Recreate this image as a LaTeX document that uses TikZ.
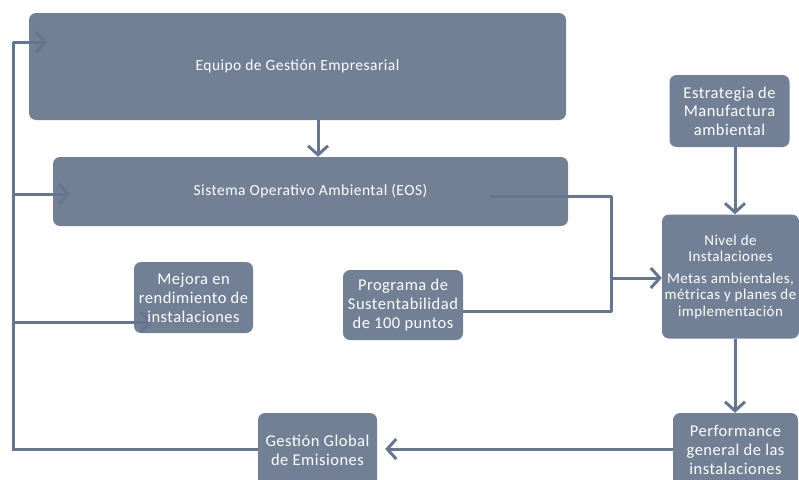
\documentclass[tikz,border=0pt]{standalone}
\usepackage{fontspec}
\setmainfont{Carlito}[LetterSpace=3]
\usetikzlibrary{arrows.meta,backgrounds}
\definecolor{boxc}{HTML}{66758D}
\definecolor{linec}{HTML}{66768E}
\begin{document}
\begin{tikzpicture}[x=1pt,y=-1pt,
  box/.style={fill=boxc, fill opacity=0.92, text opacity=1, rounded corners=7pt, text=white,
    align=center, inner sep=0pt, font=\fontsize{16.5}{19}\selectfont},
  conn/.style={draw=linec, line width=3pt, -{Straight Barb[length=9pt,width=20pt]}},
  plain/.style={draw=linec, line width=3pt}]
\useasboundingbox (0,0) rectangle (799,479);

% boxes
\node[box, minimum width=537pt, minimum height=107pt, font=\fontsize{15.5}{19}\selectfont] (ege) at (297.5,66.5) {Equipo de Gestión Empresarial};
\node[box, minimum width=515pt, minimum height=69pt, font=\fontsize{15.5}{19}\selectfont] (eos) at (310.5,191.5) {Sistema Operativo Ambiental (EOS)};
\node[box, minimum width=119pt, minimum height=71pt] (mej) at (193.5,297.5) {Mejora en\\rendimiento de\\instalaciones};
\node[box, minimum width=120pt, minimum height=70pt] (prog) at (403,305) {Programa de\\Sustentabilidad\\de 100 puntos};
\node[box, minimum width=120pt, minimum height=72pt, font=\fontsize{16.5}{18.5}\selectfont] (est) at (729.5,111) {Estrategia de\\Manufactura\\ambiental};
\node[box, minimum width=137pt, minimum height=124pt, font=\fontsize{15}{16.5}\selectfont] (niv) at (730.5,276.5)
  {Nivel de\\Instalaciones\\[5pt]Metas ambientales,\\métricas y planes de\\implementación};
\node[box, minimum width=125pt, minimum height=74pt] (perf) at (735.5,450) {Performance\\general de las\\instalaciones};
\node[box, minimum width=119pt, minimum height=74pt] (ggl) at (317.5,450) {Gestión Global\\de Emisiones};

% helper coordinates
\coordinate (ax) at (318,0);
\coordinate (rx) at (735,0);
\coordinate (lb) at (13,449);
\coordinate (lt) at (13,42);
\coordinate (egeIn) at (47,42);
\coordinate (eosIn) at (70,194);
\coordinate (mejIn) at (152,322);
\coordinate (eosOut) at (490,196);
\coordinate (j) at (611,278);
\coordinate (progOut) at (463,311);

\begin{pgfonlayer}{background}
\draw[conn] (ege.south -| ax) -- (eos.north -| ax);
\draw[conn] (est.south -| rx) -- (niv.north -| rx);
\draw[conn] (niv.south -| rx) -- (perf.north -| rx);
\draw[conn, shorten >=8pt] (perf.west |- lb) -- (ggl.east |- lb);
% left feedback line
\draw[plain] (ggl.west |- lb) -- (lb) -- (lt);
\draw[conn] (lt) -- (egeIn);
\draw[conn] (eosIn -| lt) -- (eosIn);
\draw[conn] (mejIn -| lt) -- (mejIn);
% right merge
\draw[plain, line join=round] (eosOut) -| (progOut -| j) -- (progOut);
\draw[conn] (j) -- (j -| niv.west);
\end{pgfonlayer}
\end{tikzpicture}
\end{document}
